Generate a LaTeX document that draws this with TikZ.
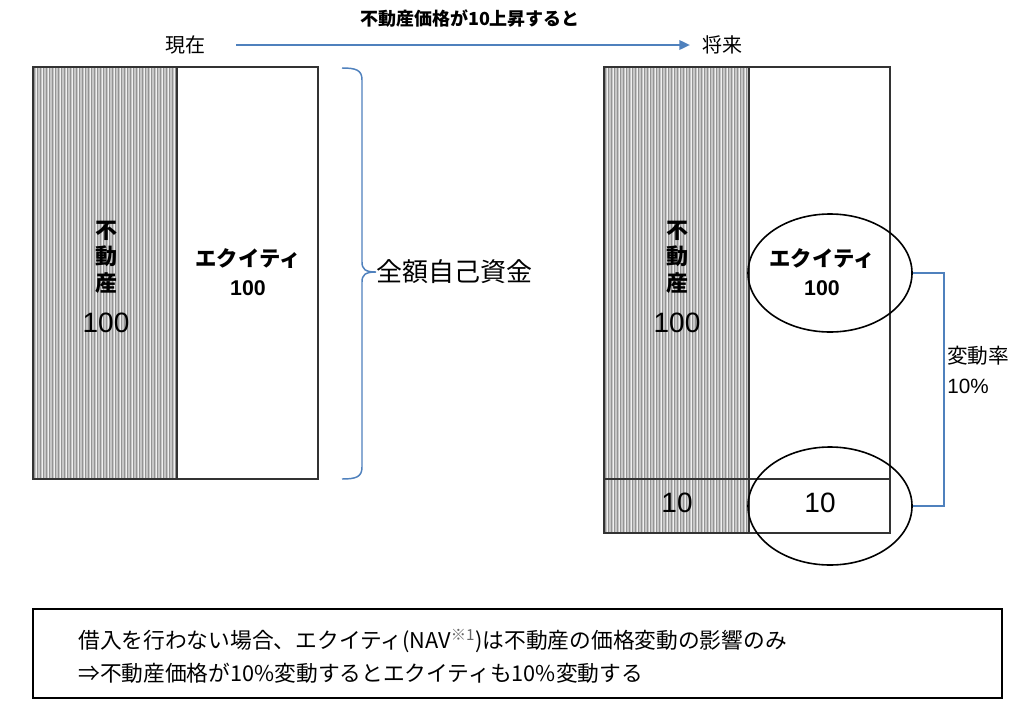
\documentclass[tikz,border=0pt]{standalone}
\usepackage{fontspec}
\setmainfont{Noto Sans CJK JP}
\newfontfamily\arial{Liberation Sans}
\usetikzlibrary{shapes.geometric,arrows.meta}
\definecolor{oblue}{RGB}{79,129,189}
\begin{document}
\begin{tikzpicture}[x=0.75pt,y=-0.75pt,
  frame/.style={draw=black!80,line width=1.5pt},
  stripes/.style={fill=black!22},
  bluel/.style={draw=oblue,line width=1.1pt},
  ring/.style={draw=black,line width=1.2pt,ellipse,minimum width=164*0.75pt,minimum height=118*0.75pt,inner sep=0pt},
  lbl/.style={inner sep=0pt,font=\fontsize{16.5}{20}\selectfont\bfseries,align=center},
  bignum/.style={inner sep=0pt,font=\arial\fontsize{21}{21}\selectfont},
  eq/.style={inner sep=0pt,font=\fontsize{16}{22}\selectfont\bfseries,align=center}]
\useasboundingbox (0,0) rectangle (1035,700);
\fill[white] (0,0) rectangle (1035,700);
% ---- left (present) ----
\fill[stripes] (33,67) rectangle (177,479);
\foreach \x in {34.5,37.5,...,176} {\draw[black!42,line width=0.55pt] (\x,67) -- (\x,479);}
\foreach \x in {36,42,...,176} {\draw[black!6,line width=0.5pt] (\x,67) -- (\x,479);}
\draw[frame] (33,67) rectangle (318,479);
\draw[frame] (177,67) -- (177,479);
% ---- right (future) ----
\fill[stripes] (604,67) rectangle (749,533);
\foreach \x in {605.5,608.5,...,748} {\draw[black!42,line width=0.55pt] (\x,67) -- (\x,533);}
\foreach \x in {607,613,...,748} {\draw[black!6,line width=0.5pt] (\x,67) -- (\x,533);}
\draw[frame] (604,67) rectangle (890,533);
\draw[frame] (749,67) -- (749,533);
\draw[frame] (604,479) -- (890,479);
% ---- labels ----
\node[lbl] (re1) at (106,257) {不\\動\\産};
\node[bignum] (rv1) at (106,323) {100};
\node[eq] (eq1) at (248,272) {エクイティ\\{\arial\bfseries 100}};
\node[lbl] (re2) at (677,257) {不\\動\\産};
\node[bignum] (rv2) at (677,323) {100};
\node[eq] (eq2) at (822,272) {エクイティ\\{\arial\bfseries 100}};
\node[bignum] (rd) at (677,503) {10};
\node[bignum] (ed) at (820,503) {10};
% ellipses
\node[ring] (e1) at (830,273) {};
\node[ring] (e2) at (830,506) {};
% bracket
\coordinate (bk) at (944,273);
\draw[bluel] (e1.east) -- (bk) |- (e2.east);
\node[inner sep=0pt,anchor=west,align=left,font=\fontsize{15.5}{23}\selectfont] (rate) at (947,370) {変動率\\{\arial 10\%}};
% brace
\node[inner sep=0pt,anchor=west,font=\fontsize{19.5}{22}\selectfont] (all) at (376,272) {全額自己資金};
\coordinate (bt) at (342,68);
\coordinate (bb) at (342,479);
\draw[bluel] (bt) .. controls (356,68) and (362,70) .. (362,80) -- (362,262)
  .. controls (362,269) and (365,272) .. (all.west)
  .. controls (365,272) and (362,275) .. (362,282) -- (362,467)
  .. controls (362,477) and (356,479) .. (bb);
% top
\node[inner sep=0pt,font=\fontsize{15}{17}\selectfont] (now) at (185,45) {現在};
\node[inner sep=0pt,font=\fontsize{15}{17}\selectfont] (fut) at (722,45) {将来};
\draw[oblue,line width=1.8pt,-{Triangle[length=8pt,width=7pt]}] (now.east)+(31,0) coordinate (as) (as) -- (690,45) coordinate (ae);
\node[inner sep=0pt,font=\fontsize{13.5}{15}\selectfont\bfseries] (cap) at (470,19) {不動産価格が10上昇すると};
% bottom box
\draw[black,line width=1.5pt] (33,609) rectangle (1002,698);
\node[inner sep=0pt,anchor=west,font=\fontsize{16.3}{18}\selectfont] (t1) at (78,641) {借入を行わない場合、エクイティ(NAV{\color{black!60}\textsuperscript{※1}})は不動産の価格変動の影響のみ};
\node[inner sep=0pt,anchor=west,font=\fontsize{16.3}{18}\selectfont] (t2) at (78,673) {⇒不動産価格が10\%変動するとエクイティも10\%変動する};
\end{tikzpicture}
\end{document}
